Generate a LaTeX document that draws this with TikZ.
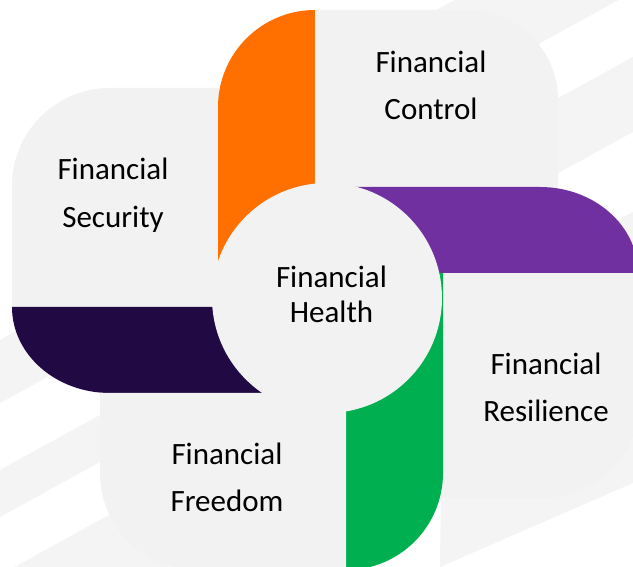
\documentclass[tikz,border=0pt]{standalone}
\usepackage{fontspec}
\setmainfont{Carlito}
\usetikzlibrary{positioning}

\definecolor{panelgray}{HTML}{F2F2F2}
\definecolor{stripegray}{HTML}{F4F4F4}
\definecolor{bandorange}{HTML}{FF7000}
\definecolor{bandpurple}{HTML}{7030A0}
\definecolor{bandgreen}{HTML}{00B050}
\definecolor{bandnavy}{HTML}{210944}

\begin{document}
\begin{tikzpicture}[
    x=1pt, y=1pt,
    panel/.style={fill=panelgray},
    stripe/.style={fill=stripegray},
    hub/.style={
        circle,
        fill=panelgray,
        minimum size=230pt,
        inner sep=0pt
    },
    lbl/.style={
        font=\fontsize{31}{47.5}\selectfont,
        align=center,
        inner sep=0pt,
        text=black
    },
    hublbl/.style={
        lbl,
        font=\fontsize{31}{35}\selectfont
    }
]

\useasboundingbox (0,0) rectangle (633,567);
\clip (0,0) rectangle (633,567);
\fill[white] (0,0) rectangle (633,567);

% Background stripes
\foreach \ca/\cb in {340/403, 470/517, 575/660} {
    \fill[stripe] (0,567-\cb) -- (330,567-\cb+181.5) -- (330,567-\ca+181.5) -- (0,567-\ca) -- cycle;
}
\foreach \ca/\cb in {250/340, 405/480, 560/640} {
    \fill[stripe] (330,567-\cb+181.5) -- (633,567-\cb+348) -- (633,567-\ca+348) -- (330,567-\ca+181.5) -- cycle;
}
\fill[stripe] (440,0) -- (633,84) -- (633,250) -- (443,250) -- cycle;

% Security (left)
\fill[panel] (219,260) -- (12,260) -- (12,381) arc[start angle=180, end angle=90, radius=98] -- (219,479) -- cycle;
\fill[bandnavy] (330,260) -- (12,260) arc[start angle=180, end angle=270, x radius=98, y radius=86] -- (330,174) -- cycle;

% Control (top)
\fill[bandorange] (218,267) -- (218,460) arc[start angle=180, end angle=90, radius=97] -- (315,267) -- cycle;
\fill[panel] (315,379) -- (315,557) -- (468,557) arc[start angle=90, end angle=0, radius=90] -- (558,379) -- cycle;

% Resilience (right)
\fill[panel] (442,294) -- (640,294) -- (640,167) arc[start angle=0, end angle=-90, radius=98] -- (442,69) -- cycle;
\fill[bandpurple] (330,294) -- (330,380) -- (540,380) arc[start angle=90, end angle=0, x radius=98, y radius=86] -- (638,294) -- cycle;

% Freedom (bottom)
\fill[bandgreen] (346,294) -- (443,294) -- (443,94) arc[start angle=0, end angle=-90, radius=97] -- (346,-3) -- cycle;
\fill[panel] (100,174) -- (346,174) -- (346,-3) -- (197,-3) arc[start angle=270, end angle=180, radius=97] -- cycle;

% Centre
\node[hub] (hub) at (327,269) {};

% Labels
\node[lbl] (control) at (431,481.5) {Financial\\Control};
\node[lbl] (security) at (113,372) {Financial\\Security};
\node[lbl] (resilience) at (546,179.5) {Financial\\Resilience};
\node[lbl] (freedom) at (227,89.5) {Financial\\Freedom};
\node[hublbl] (health) at (331.5,273) {Financial\\Health};

\end{tikzpicture}
\end{document}
